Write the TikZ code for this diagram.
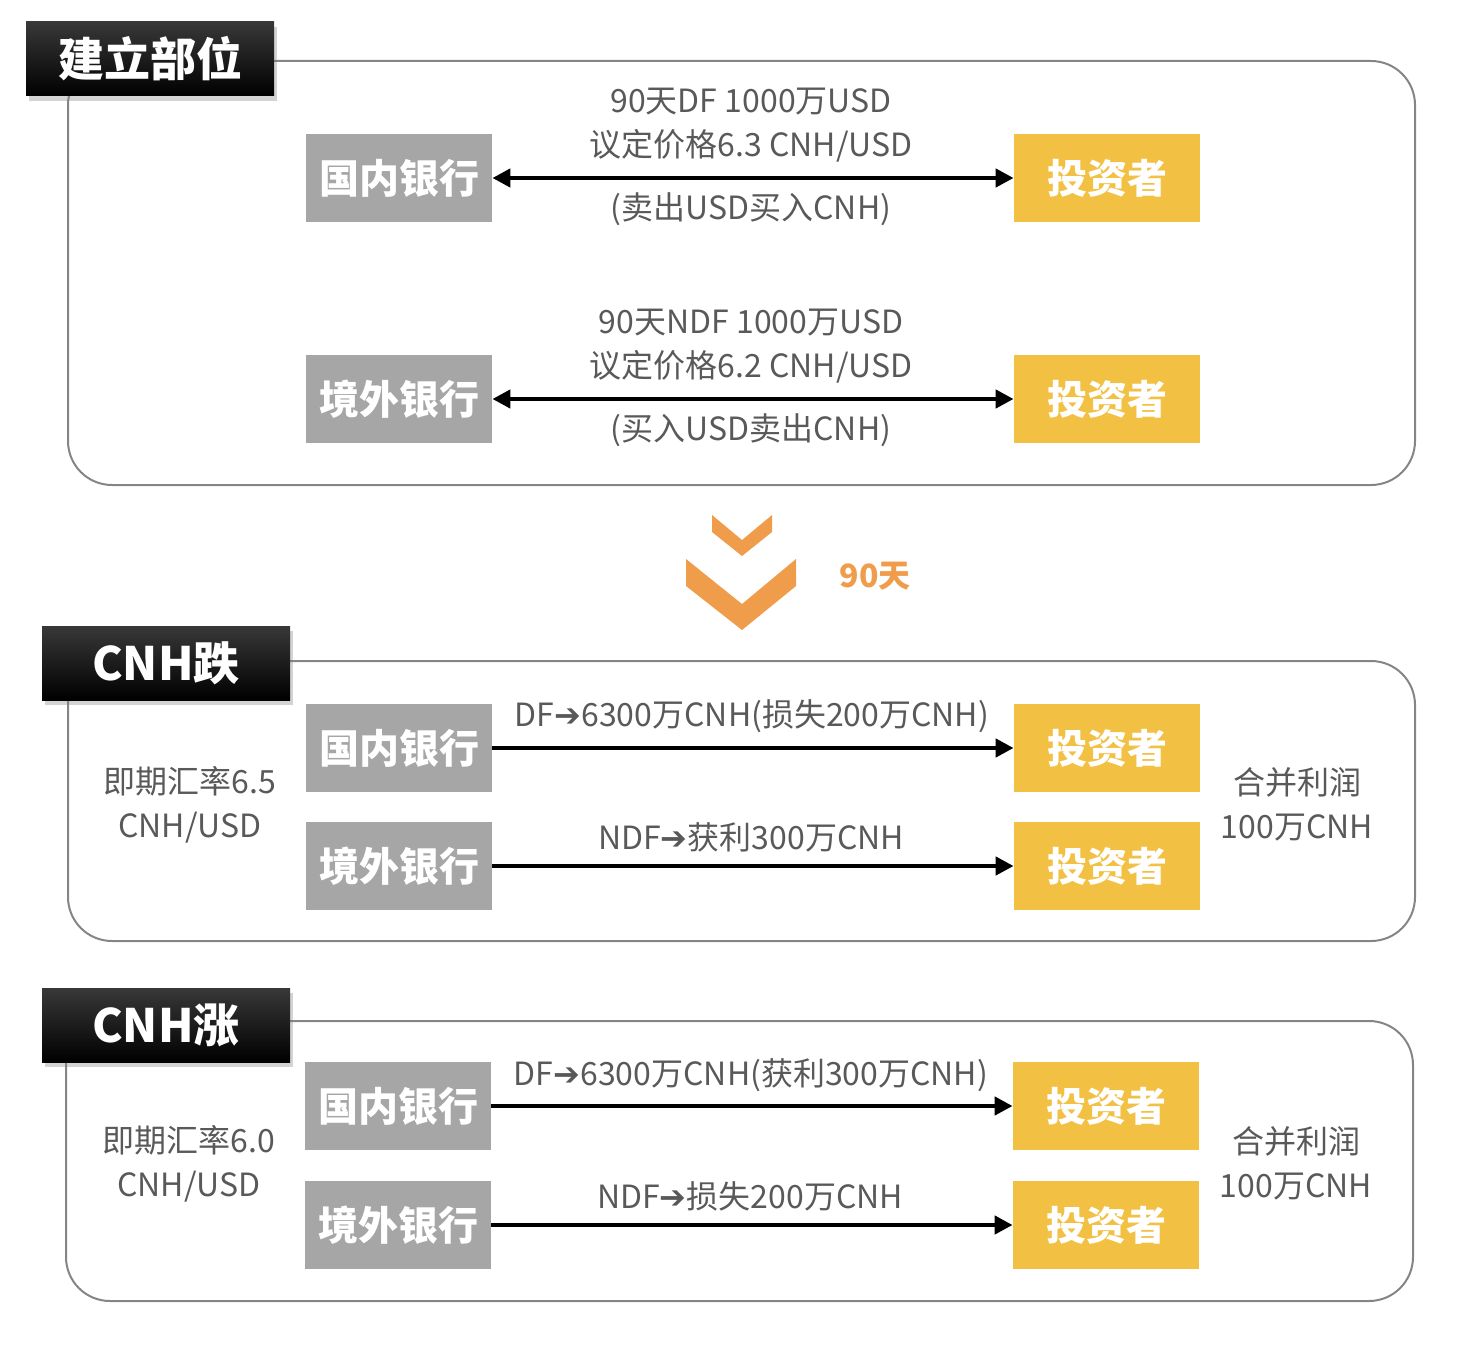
\documentclass[tikz,border=0pt]{standalone}
\usepackage{fontspec}
\setmainfont{Noto Sans CJK SC}
\newfontfamily\symfont{DejaVu Sans}
\usetikzlibrary{shapes, positioning, arrows.meta, shadows}
\definecolor{bankgray}{HTML}{A6A6A6}
\definecolor{invyellow}{HTML}{F2C143}
\definecolor{daysorange}{HTML}{EF9D4A}
\definecolor{txtgray}{HTML}{595959}
\definecolor{framegray}{HTML}{858585}
\newcommand{\tto}{{\symfont\bfseries ➔}}

\begin{document}
\begin{tikzpicture}[x=0.5pt, y=-0.5pt,
    bank/.style={fill=bankgray, text=white, font=\bfseries\fontsize{20}{24}\selectfont,
        minimum width=93pt, minimum height=44pt, inner sep=0pt},
    investor/.style={bank, fill=invyellow},
    title/.style={top color=black!78, bottom color=black, text=white,
        font=\bfseries\fontsize{23}{26}\selectfont, minimum width=124pt, minimum height=37pt,
        inner sep=0pt, drop shadow={shadow xshift=1.5pt, shadow yshift=-2.5pt, opacity=0.35}},
    panel/.style={draw=framegray, line width=1pt, rounded corners=22pt},
    lbl/.style={text=txtgray, font=\fontsize{16}{22}\selectfont, align=center, inner sep=0pt},
    flow/.style={line width=2.2pt, -{Triangle[length=9pt, width=9pt]}},
    both/.style={line width=2.2pt, {Triangle[length=9pt, width=9pt]}-{Triangle[length=9pt, width=9pt]}}]
    \useasboundingbox (0,0) rectangle (1462,1348);

    % panel 1
    \draw[panel] (68,61) rectangle (1415,485);
    \node[title] (t1) at (150,59) {建立部位};
    \node[bank] (dom1) at (399,178) {国内银行};
    \node[bank] (off1) at (399,399) {境外银行};
    \node[investor] (inv1) at (1107,178) {投资者};
    \node[investor] (inv2) at (1107,399) {投资者};
    \draw[both] (dom1) to (inv1);
    \draw[both] (off1) to (inv2);
    \node[lbl] (df1) at (751,125) {90天DF 1000万USD\\议定价格6.3 CNH/USD};
    \node[lbl] (df1b) at (751,209) {(卖出USD买入CNH)};
    \node[lbl] (ndf1) at (751,346) {90天NDF 1000万USD\\议定价格6.2 CNH/USD};
    \node[lbl] (ndf1b) at (751,430) {(买入USD卖出CNH)};

    % 90 days
    \fill[daysorange] (712,515) -- (742,540) -- (772,515) -- (772,532) -- (742,556) -- (712,532) -- cycle;
    \fill[daysorange] (686,559) -- (742,604) -- (796,559) -- (796,586) -- (742,630) -- (686,586) -- cycle;
    \node[text=daysorange, font=\bfseries\fontsize{16}{18}\selectfont] (days) at (875,576) {90天};

    % panel 2
    \draw[panel] (68,661) rectangle (1415,941);
    \node[title] (t2) at (166,663) {CNH跌};
    \node[bank] (dom2) at (399,748) {国内银行};
    \node[bank] (off2) at (399,866) {境外银行};
    \node[investor] (inv3) at (1107,748) {投资者};
    \node[investor] (inv4) at (1107,866) {投资者};
    \draw[flow] (dom2) to (inv3);
    \draw[flow] (off2) to (inv4);
    \node[lbl] (df2) at (752,716) {DF\tto{}6300万CNH(损失200万CNH)};
    \node[lbl] (ndf2) at (751,837) {NDF\tto{}获利300万CNH};
    \node[lbl] (spot2) at (190,805) {即期汇率6.5\\CNH/USD};
    \node[lbl] (sum2) at (1297,804) {合并利润\\100万CNH};

    % panel 3
    \draw[panel] (66,1021) rectangle (1413,1301);
    \node[title] (t3) at (166,1025) {CNH涨};
    \node[bank] (dom3) at (398,1106) {国内银行};
    \node[bank] (off3) at (398,1225) {境外银行};
    \node[investor] (inv5) at (1106,1106) {投资者};
    \node[investor] (inv6) at (1106,1225) {投资者};
    \draw[flow] (dom3) to (inv5);
    \draw[flow] (off3) to (inv6);
    \node[lbl] (df3) at (751,1075) {DF\tto{}6300万CNH(获利300万CNH)};
    \node[lbl] (ndf3) at (750,1196) {NDF\tto{}损失200万CNH};
    \node[lbl] (spot3) at (189,1164) {即期汇率6.0\\CNH/USD};
    \node[lbl] (sum3) at (1296,1163) {合并利润\\100万CNH};
\end{tikzpicture}
\end{document}
